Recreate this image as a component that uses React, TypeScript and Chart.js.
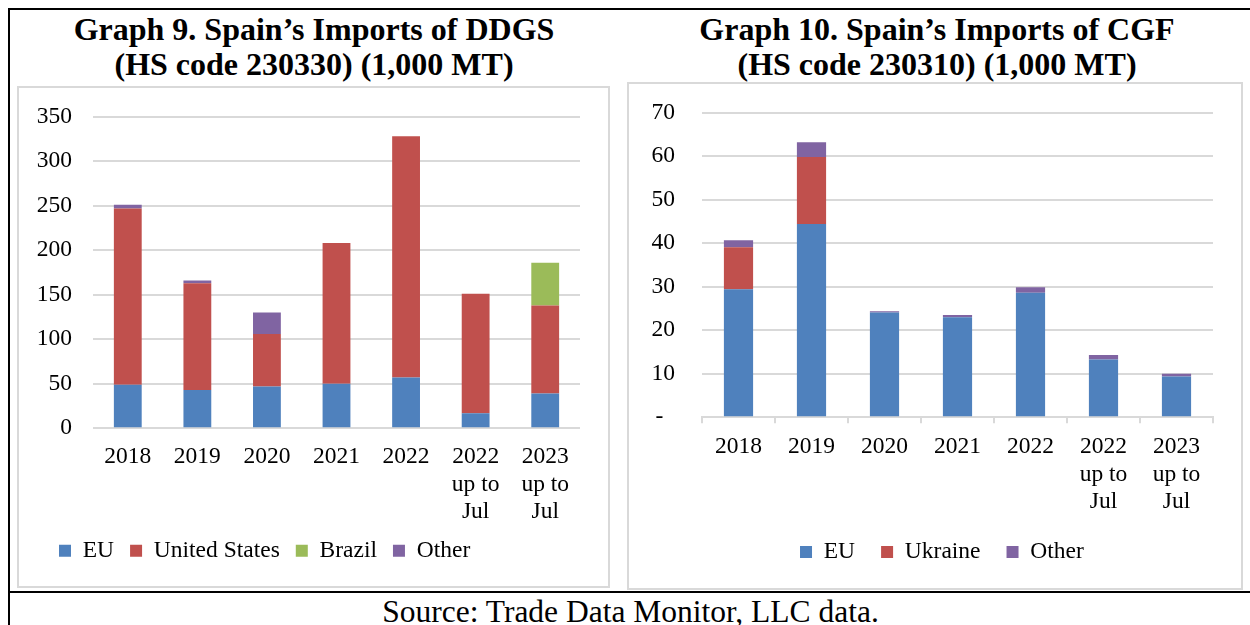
import React, { useEffect, useRef } from "react";
import { Chart, registerables } from "chart.js";
Chart.register(...registerables);

const categories: (string | string[])[] = [
  "2018", "2019", "2020", "2021", "2022",
  ["2022", "up to", "Jul"], ["2023", "up to", "Jul"],
];

// Graph 9: DDGS (1,000 MT)
const ddgsEU = [49, 43, 47, 50, 57, 17, 39];
const ddgsUS = [198, 120, 59, 158, 271, 134, 99];
const ddgsBrazil = [0, 0, 0, 0, 0, 0, 48];
const ddgsOther = [4, 3, 24, 0, 0, 0, 0];
const ddgsMax = 350;
const ddgsStep = 50;

// Graph 10: CGF (1,000 MT)
const cgfEU = [29.4, 44.4, 24.1, 23.0, 28.6, 13.3, 9.4];
const cgfUkraine = [9.7, 15.4, 0, 0, 0, 0, 0];
const cgfOther = [1.6, 3.4, 0.3, 0.5, 1.3, 1.0, 0.6];
const cgfMax = 70;
const cgfStep = 10;
const cgfZeroLabel = "-  ";

const titles9 = ["Graph 9. Spain\u2019s Imports of DDGS", "(HS code 230330) (1,000 MT)"];
const titles10 = ["Graph 10. Spain\u2019s Imports of CGF", "(HS code 230310) (1,000 MT)"];
const sourceText = "Source: Trade Data Monitor, LLC data.";

const BLUE = "#4F81BD";
const RED = "#C0504D";
const GREEN = "#9BBB59";
const PURPLE = "#8064A2";
const GRID = "#d9d9d9";
const FONT = "'Liberation Serif', 'Times New Roman', serif";
const FS = 23.5;

// shifts the legend box's left edge (legend layout only)
const legendShift = {
  id: "legendShift",
  afterLayout(chart: any, _args: any, opts: any) {
    if (chart.legend && opts && typeof opts.left === "number") {
      chart.legend.left = opts.left;
    }
  },
};

function ChartCanvas({ config, left, top, width, height }: any) {
  const ref = useRef<HTMLCanvasElement | null>(null);
  useEffect(() => {
    if (!ref.current) return;
    const chart = new Chart(ref.current, config);
    return () => chart.destroy();
  }, []);
  return (
    <canvas
      ref={ref}
      width={width}
      height={height}
      style={{ position: "absolute", left, top, width, height }}
    />
  );
}

const ds = (label: string, data: number[], color: string) => ({
  label,
  data,
  backgroundColor: color,
  borderWidth: 0,
  categoryPercentage: 1.0,
  barPercentage: 0.4,
});

const tickFont = { family: FONT, size: FS, lineHeight: 1.18 };

const yFit = (w: number) => (s: any) => {
  s.width = w;
  s.paddingTop = 0;
  s.paddingBottom = 0;
};

const config9: any = {
  type: "bar",
  data: {
    labels: categories,
    datasets: [
      ds("EU", ddgsEU, BLUE),
      ds("United States", ddgsUS, RED),
      ds("Brazil", ddgsBrazil, GREEN),
      ds("Other", ddgsOther, PURPLE),
    ],
  },
  plugins: [legendShift],
  options: {
    animation: false,
    responsive: false,
    devicePixelRatio: 1,
    layout: { padding: { left: 0, right: 29, top: 29.7, bottom: 14.55 } },
    plugins: {
      legendShift: { left: 25 },
      title: { display: false },
      tooltip: { enabled: false },
      legend: {
        position: "bottom",
        align: "start",
        labels: {
          boxWidth: 12,
          boxHeight: 12,
          padding: 16,
          color: "#000",
          font: { family: FONT, size: FS },
        },
      },
    },
    scales: {
      x: {
        stacked: true,
        grid: { display: false, drawTicks: false },
        border: { display: false },
        ticks: { color: "#000", font: tickFont, padding: 14.5, maxRotation: 0, autoSkip: false },
        afterFit: (s: any) => { s.height = 94.65; },
      },
      y: {
        stacked: true,
        min: 0,
        max: ddgsMax,
        grid: { color: GRID, lineWidth: 2, drawTicks: false },
        border: { display: false },
        ticks: { stepSize: ddgsStep, color: "#000", font: { family: FONT, size: FS }, padding: 21 },
        afterFit: yFit(75),
      },
    },
  },
};

const config10: any = {
  type: "bar",
  data: {
    labels: categories,
    datasets: [
      ds("EU", cgfEU, BLUE),
      ds("Ukraine", cgfUkraine, RED),
      ds("Other", cgfOther, PURPLE),
    ],
  },
  plugins: [legendShift],
  options: {
    animation: false,
    responsive: false,
    devicePixelRatio: 1,
    layout: { padding: { left: 0, right: 29, top: 29.7, bottom: 15.25 } },
    plugins: {
      legendShift: { left: 42.8 },
      title: { display: false },
      tooltip: { enabled: false },
      legend: {
        position: "bottom",
        align: "center",
        labels: {
          boxWidth: 12,
          boxHeight: 12,
          padding: 26,
          color: "#000",
          font: { family: FONT, size: FS },
        },
      },
    },
    scales: {
      x: {
        stacked: true,
        grid: {
          display: true,
          drawOnChartArea: false,
          drawTicks: true,
          tickLength: 6,
          color: GRID,
          lineWidth: 2,
          offset: true,
        },
        border: { display: true, color: GRID, width: 2 },
        ticks: { color: "#000", font: tickFont, padding: 9.5, maxRotation: 0, autoSkip: false },
        afterFit: (s: any) => { s.height = 96.95; },
      },
      y: {
        stacked: true,
        min: 0,
        max: cgfMax,
        grid: { color: GRID, lineWidth: 2, drawTicks: false },
        border: { display: false },
        ticks: {
          stepSize: cgfStep,
          color: "#000",
          font: { family: FONT, size: FS },
          padding: 27,
          callback: (v: any) => (Number(v) === 0 ? cgfZeroLabel : String(v)),
        },
        afterFit: yFit(74),
      },
    },
  },
};

const titleStyle = (cx: number): React.CSSProperties => ({
  position: "absolute",
  left: cx - 310,
  width: 620,
  top: 12,
  textAlign: "center",
  fontFamily: FONT,
  fontWeight: "bold",
  fontSize: 32,
  lineHeight: "35px",
  color: "#000",
  whiteSpace: "nowrap",
});

export default function App() {
  return (
    <div
      style={{
        position: "fixed",
        left: 0,
        top: 0,
        width: 1250,
        height: 625,
        background: "#fff",
        overflow: "hidden",
      }}
    >
      {/* outer table borders */}
      <div style={{ position: "absolute", left: 8, top: 8, width: 1300, height: 2, background: "#000" }} />
      <div style={{ position: "absolute", left: 8, top: 8, width: 2, height: 700, background: "#000" }} />
      <div style={{ position: "absolute", left: 8, top: 591, width: 1300, height: 2, background: "#000" }} />

      <div style={titleStyle(314)}>
        {titles9[0]}
        <br />
        {titles9[1]}
      </div>
      <div style={titleStyle(937)}>
        {titles10[0]}
        <br />
        {titles10[1]}
      </div>

      {/* chart boxes */}
      <div
        style={{
          position: "absolute",
          left: 17,
          top: 86,
          width: 593,
          height: 502,
          border: `2px solid ${GRID}`,
          boxSizing: "border-box",
        }}
      />
      <div
        style={{
          position: "absolute",
          left: 627,
          top: 82,
          width: 616,
          height: 508,
          border: `2px solid ${GRID}`,
          boxSizing: "border-box",
        }}
      />

      <ChartCanvas config={config9} left={18} top={87} width={591} height={500} />
      <ChartCanvas config={config10} left={628} top={83} width={614} height={506} />

      <div
        style={{
          position: "absolute",
          left: 0,
          width: 1261,
          top: 593.5,
          textAlign: "center",
          fontFamily: FONT,
          fontSize: 31.5,
          lineHeight: "36px",
          color: "#000",
          whiteSpace: "nowrap",
        }}
      >
        {sourceText}
      </div>
    </div>
  );
}
